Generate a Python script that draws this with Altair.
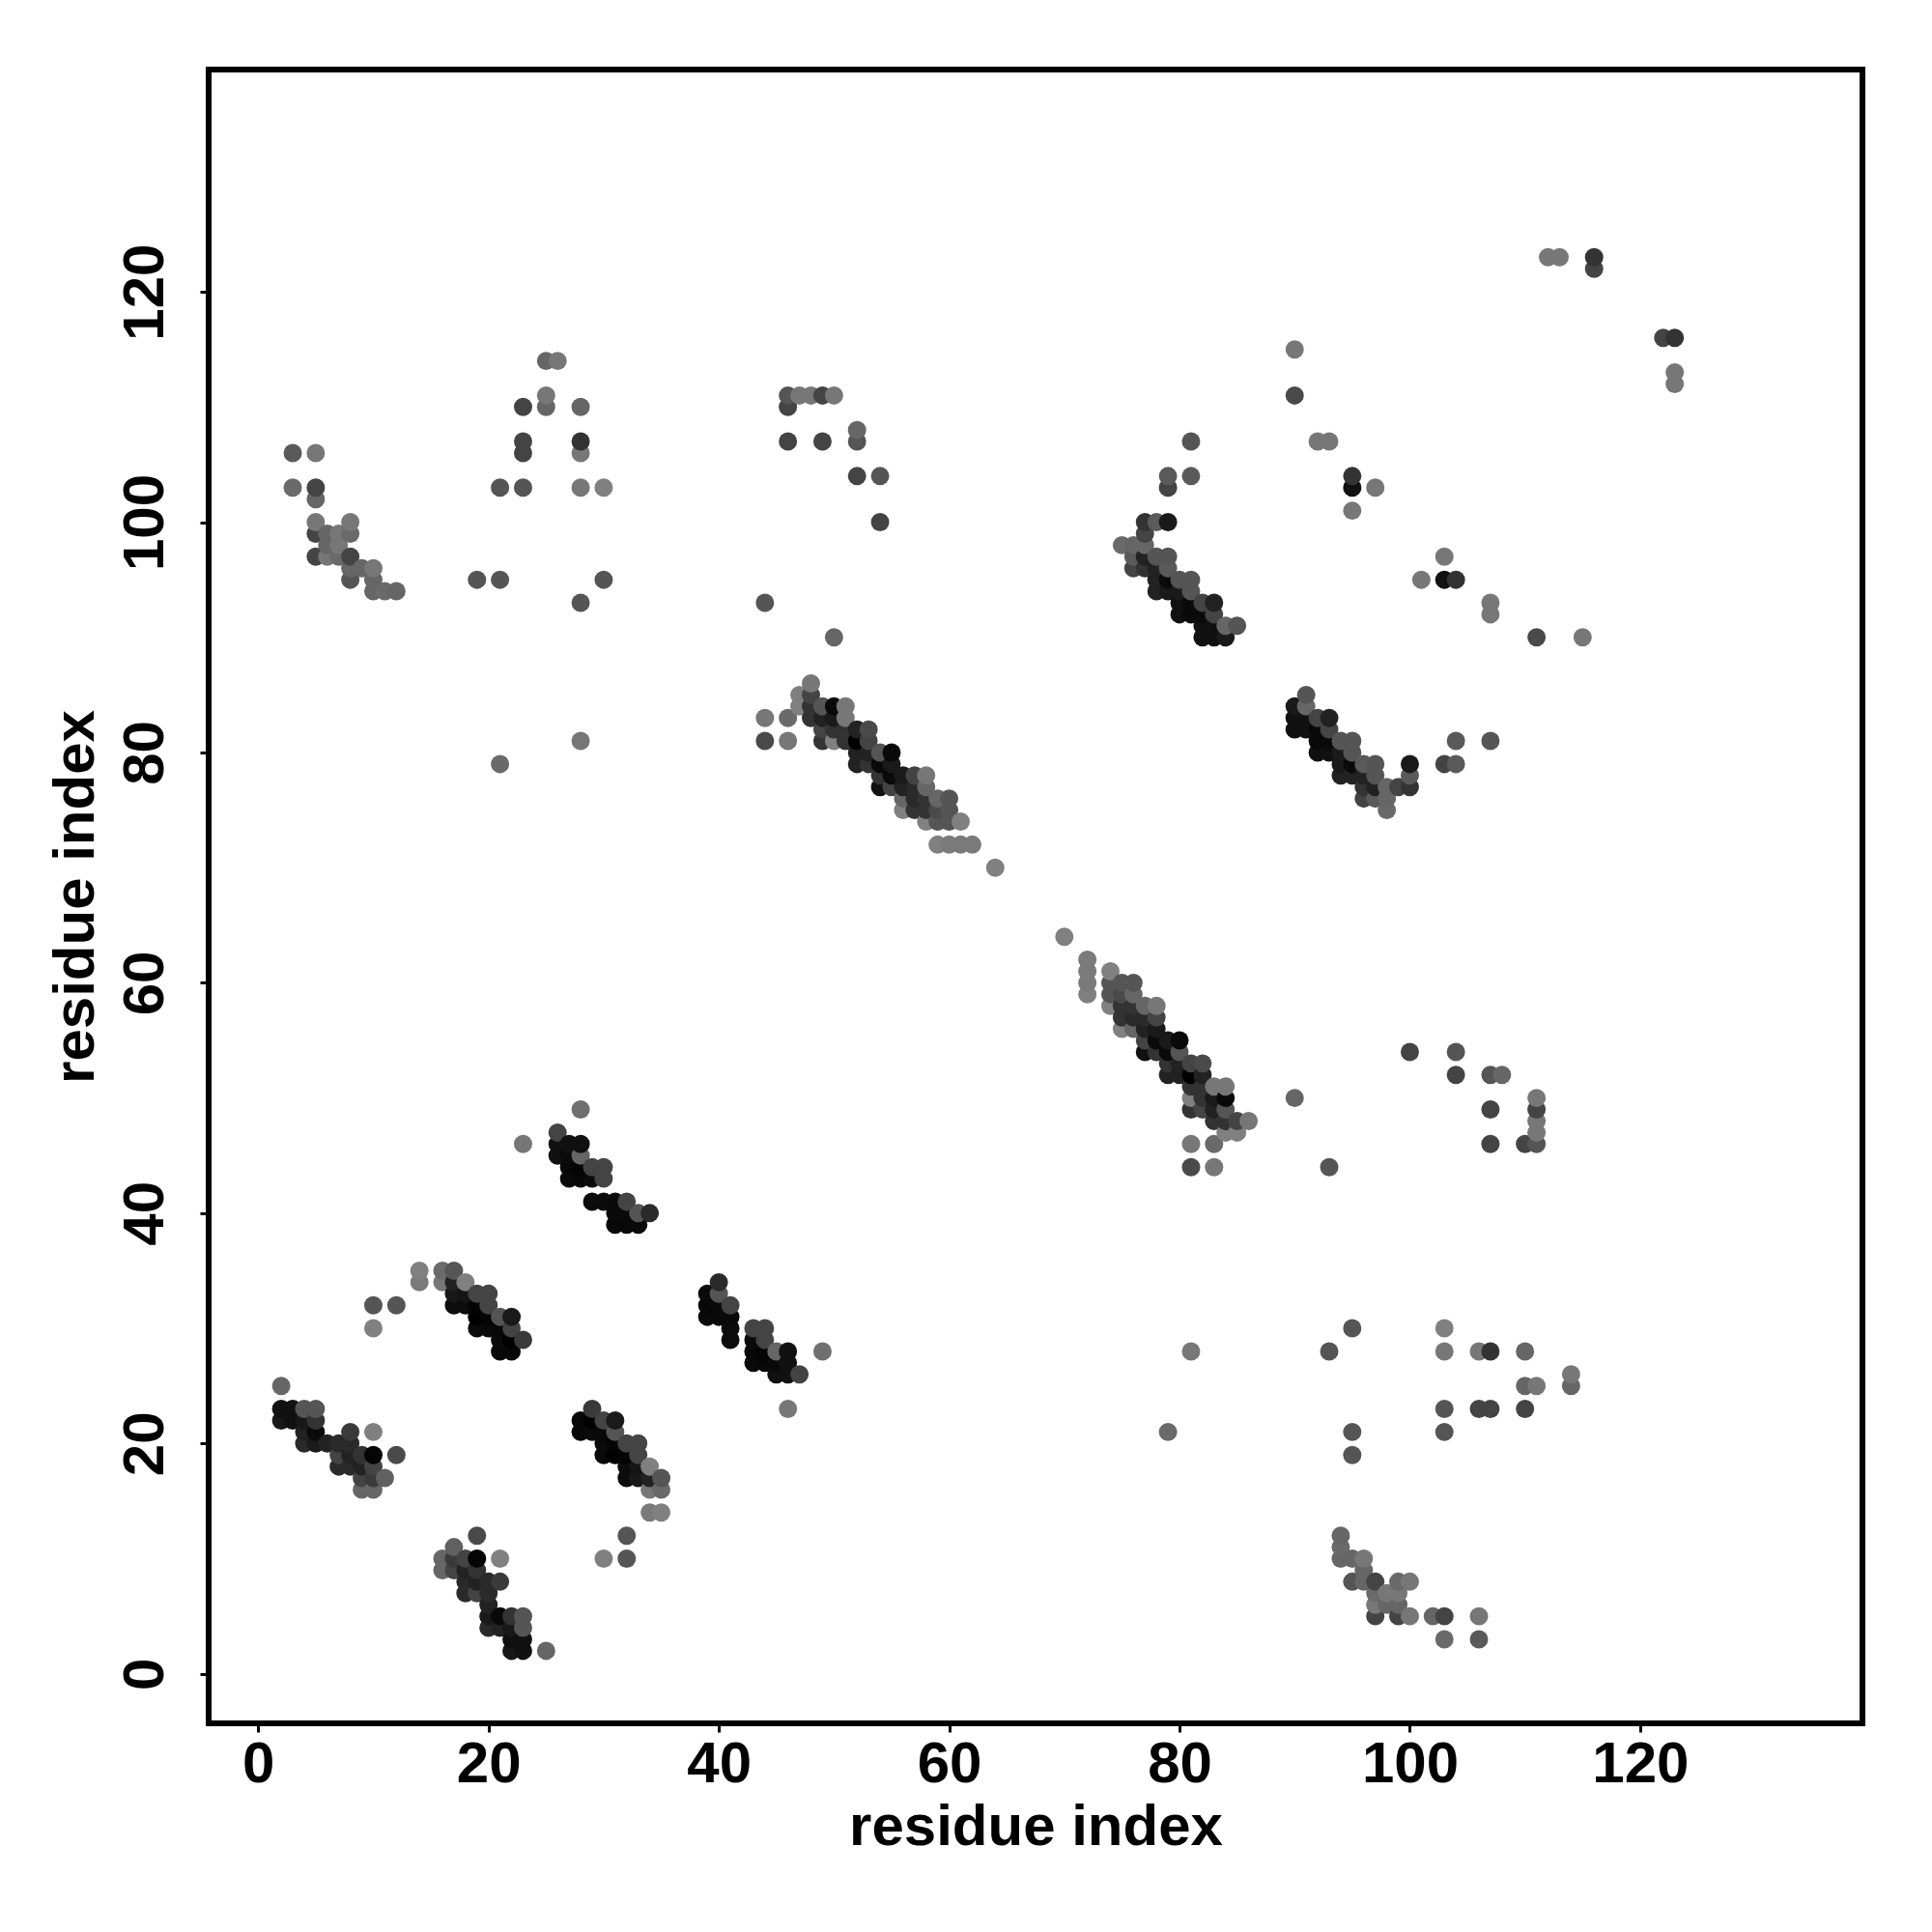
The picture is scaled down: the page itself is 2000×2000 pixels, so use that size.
import altair as alt
import pandas as pd

# Each contact: (residue i, residue j, grey level 0-128). A contact map is symmetric,
# and the reference shows every contact at both (i, j) and (j, i).
contacts_a = [(2,25,0x66),(2,23,0x11),(2,22,0x18),(3,23,0x11),(3,22,0x11),(4,23,0x55),(4,22,0x18),(4,21,0x22),
              (4,20,0x2a),(5,23,0x55),(5,22,0x33),(5,21,0x0a),(5,20,0x1a),(6,20,0x22),(7,20,0x2a),(7,19,0x44),
              (7,18,0x2a),(8,21,0x3a),(8,20,0x2a),(8,19,0x22),(8,18,0x2a),(9,19,0x33),(9,18,0x22),(9,17,0x44),
              (9,16,0x66),(10,21,0x80),(10,19,0x05),(10,18,0x44),(10,17,0x3a),(10,16,0x66),(11,17,0x60),(12,19,0x4a)]
contacts_b = [(10,32,0x55),(10,30,0x80),(12,32,0x55),(14,35,0x80),(14,34,0x7a),(16,35,0x6a),(16,34,0x77),
              (17,35,0x55),(17,34,0x22),(17,33,0x18),(17,32,0x0c),(18,34,0x80),(18,33,0x15),(18,32,0x0c),
              (19,33,0x44),(19,32,0x05),(19,31,0x00),(19,30,0x0a),(20,33,0x44),(20,32,0x44),(20,31,0x05),(20,30,0x0a),
              (21,31,0x55),(21,30,0x08),(21,29,0x0a),(21,28,0x08),(22,31,0x1a),(22,30,0x44),(22,29,0x00),(22,28,0x08),
              (23,29,0x3a)]
contacts_e = [(26,47,0x44),(26,46,0x11),(26,45,0x11),(27,46,0x11),(27,45,0x0a),(27,44,0x08),(27,43,0x0a),
              (28,49,0x70),(28,46,0x11),(28,45,0x66),(28,44,0x05),(28,43,0x08),(29,44,0x44),(29,43,0x0a),(29,41,0x0c),
              (30,44,0x44),(30,43,0x44),(30,41,0x0c),(31,41,0x0a),(31,40,0x0a),(31,39,0x0a),(32,41,0x44),(32,40,0x0a),
              (32,39,0x08),(33,40,0x55),(33,39,0x0a),(34,40,0x2a)]
contacts_g = [(44,83,0x77),(44,81,0x4a),(46,83,0x6a),(46,81,0x77),(47,85,0x80),(47,84,0x80),(48,86,0x77),(48,85,0x44),
              (48,84,0x33),(48,83,0x33),(49,84,0x55),(49,83,0x22),(49,82,0x44),(49,81,0x33),(50,84,0x0a),(50,83,0x1a),
              (50,82,0x33),(50,81,0x80),(51,84,0x77),(51,83,0x77),(51,82,0x33),(51,81,0x33),(52,82,0x22),(52,81,0x00),
              (52,80,0x22),(52,79,0x22),(53,82,0x4a),(53,81,0x44),(53,80,0x22),(53,79,0x33),(54,80,0x55),(54,79,0x0a),
              (54,78,0x33),(54,77,0x11),(55,80,0x0a),(55,79,0x1a),(55,78,0x0a),(55,77,0x44),(56,78,0x1a),(56,77,0x22),
              (56,76,0x66),(56,75,0x80),(57,78,0x44),(57,77,0x2a),(57,76,0x2a),(57,75,0x33),(58,78,0x77),(58,77,0x66),
              (58,76,0x33),(58,75,0x33),(58,74,0x80),(59,76,0x66),(59,75,0x4a),(59,74,0x55),(59,72,0x80),(60,76,0x55),
              (60,75,0x55),(60,74,0x55),(60,72,0x7a),(61,74,0x80),(61,72,0x7a),(62,72,0x7a),(64,70,0x80)]
contacts_h = [(75,98,0x66),(76,98,0x5a),(76,97,0x5a),(76,96,0x44),(77,100,0x3a),(77,99,0x55),(77,98,0x66),(77,97,0x22),
              (77,96,0x33),(78,100,0x66),(78,97,0x55),(78,96,0x11),(78,95,0x11),(78,94,0x2a),(79,104,0x44),(79,103,0x33),
              (79,100,0x1a),(79,97,0x55),(79,96,0x66),(79,95,0x0a),(79,94,0x22),(80,95,0x55),(80,94,0x1a),(80,93,0x1a),
              (80,92,0x1a),(81,107,0x44),(81,104,0x55),(81,95,0x5a),(81,94,0x55),(81,93,0x0a),(81,92,0x11),(82,93,0x44),
              (82,92,0x0a),(82,91,0x1a),(82,90,0x1a),(83,93,0x22),(83,92,0x44),(83,91,0x11),(83,90,0x11),(84,91,0x55),
              (84,90,0x1a),(85,91,0x4a)]
contacts_m = [(90,84,0x1a),(90,83,0x11),(90,82,0x11),(91,85,0x55),(91,84,0x66),(91,83,0x11),(91,82,0x11),(92,83,0x44),
              (92,82,0x0a),(92,81,0x0a),(92,80,0x11),(93,83,0x22),(93,82,0x44),(93,81,0x0a),(93,80,0x11),(94,81,0x55),
              (94,80,0x1a),(94,79,0x1a),(94,78,0x22),(95,81,0x55),(95,80,0x55),(95,79,0x0a),(95,78,0x22),(96,79,0x5a),
              (96,78,0x22),(96,77,0x33),(96,76,0x44),(97,79,0x55),(97,78,0x55),(97,77,0x22),(97,76,0x5a),(98,77,0x66),
              (98,76,0x66),(98,75,0x6a),(99,77,0x44),(100,79,0x1a),(100,78,0x5a),(100,77,0x33),(103,79,0x44),
              (104,79,0x5a),(104,81,0x5a),(107,81,0x55)]
contacts_p = [(3,106,0x5a),(3,103,0x6a),(5,106,0x77),(5,103,0x44),(5,102,0x66),(5,100,0x77),(5,99,0x44),(5,97,0x44),
              (6,99,0x66),(6,98,0x66),(6,97,0x77),(7,99,0x77),(7,98,0x77),(7,97,0x6a),(8,100,0x77),(8,99,0x6a),
              (8,97,0x44),(8,96,0x66),(8,95,0x55),(9,96,0x66),(10,96,0x77),(10,95,0x66),(10,94,0x66),(11,94,0x6a),
              (12,94,0x66)]
contacts_q = [(19,95,0x55),(21,95,0x55),(21,79,0x6a),(23,46,0x77),(21,103,0x55),(23,103,0x55),(23,106,0x44),
              (23,107,0x44),(23,110,0x44),(25,110,0x66),(25,111,0x77),(25,114,0x66),(26,114,0x77),(28,110,0x66),
              (28,107,0x33),(28,106,0x77),(28,103,0x77),(30,103,0x80),(28,93,0x55),(30,95,0x55),(28,81,0x77)]
contacts_r = [(44,93,0x55),(50,90,0x66),(46,107,0x44),(46,110,0x44),(46,111,0x55),(47,111,0x77),(48,111,0x77),
              (49,111,0x44),(50,111,0x77),(49,107,0x44),(52,108,0x66),(52,107,0x55),(52,104,0x44),(54,104,0x55),
              (54,100,0x44)]
contacts_s = [(90,111,0x4a),(90,115,0x77),(92,107,0x77),(93,107,0x77),(95,101,0x77),(95,103,0x11),(95,104,0x33),
              (97,103,0x77),(112,123,0x77),(113,123,0x77),(116,123,0x33),(116,122,0x44)]

tick_values = [0, 20, 40, 60, 80, 100, 120]
axis_label = "residue index"

table = (contacts_a + contacts_b + contacts_e + contacts_g + contacts_h + contacts_m
         + contacts_p + contacts_q + contacts_r + contacts_s)
both = {}
for i, j, g in table:
    both[(i, j)] = g
    both[(j, i)] = g
rows = [{"i": k[0], "j": k[1], "g": v} for k, v in sorted(both.items())]
df = pd.DataFrame(rows)

FONT = "Liberation Sans"
dom = [-4.3, 139.3]

def axis(**kw):
    return alt.Axis(values=tick_values, title=axis_label, grid=False, domain=False,
                    tickColor="black", tickWidth=3, tickSize=9,
                    labelFont=FONT, labelFontSize=60, labelFontWeight="bold", labelColor="black",
                    titleFont=FONT, titleFontSize=60, titleFontWeight="bold", titleColor="black",
                    **kw)

chart = alt.Chart(df).mark_circle(opacity=1, size=360).encode(
    x=alt.X("i:Q", scale=alt.Scale(domain=dom, nice=False, zero=False),
            axis=axis(labelPadding=4, labelBaseline="top", titlePadding=6, format="d")),
    y=alt.Y("j:Q", scale=alt.Scale(domain=dom, nice=False, zero=False),
            axis=axis(labelAngle=270, labelAlign="center", labelBaseline="bottom",
                      labelPadding=26, titlePadding=11, format="d")),
    color=alt.Color("g:Q", legend=None,
                    scale=alt.Scale(domain=[0, 128], range=["#000000", "#808080"], interpolate="rgb")),
).properties(
    width=1712, height=1712, autosize=alt.AutoSizeParams(type="none"),
    padding={"left": 208, "top": 64, "right": 60, "bottom": 150}, background="white",
).configure_view(stroke="black", strokeWidth=6)

chart.save("out.html", embed_options={"renderer": "svg", "actions": False})
